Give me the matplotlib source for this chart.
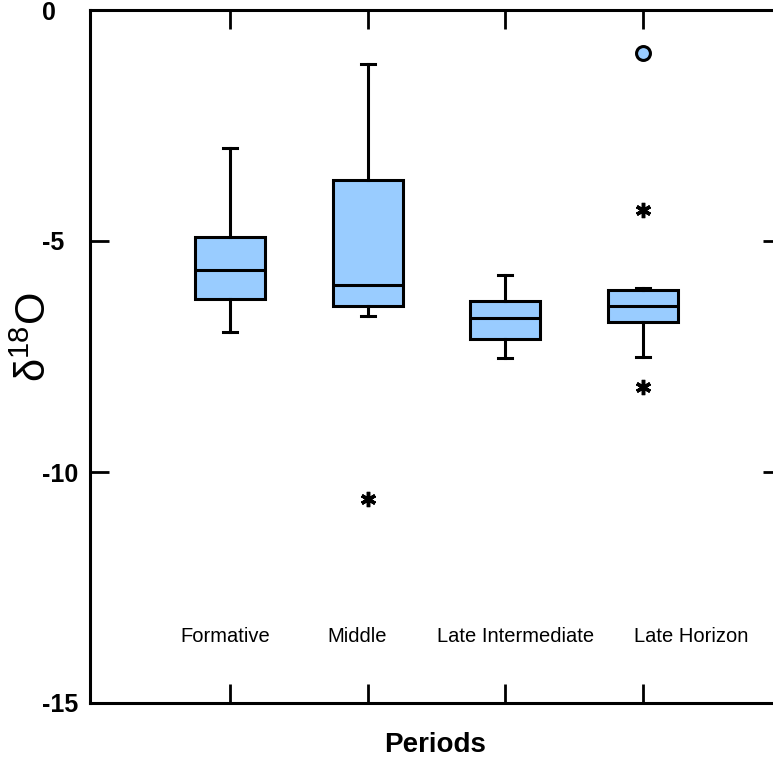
import matplotlib
matplotlib.use("Agg")
import matplotlib.pyplot as plt

plt.rcParams['font.family'] = ['Liberation Sans', 'DejaVu Sans']

categories = ["Formative", "Middle", "Late Intermediate", "Late Horizon"]
whisker_low = [-6.98, -6.62, -7.54, -7.50]
q1 = [-6.26, -6.40, -7.12, -6.76]
median = [-5.62, -5.95, -6.67, -6.40]
q3 = [-4.91, -3.67, -6.29, -6.06]
whisker_high = [-2.98, -1.17, -5.74, -6.02]
star_outlier_cat = [1, 3, 3]
star_outlier_val = [-10.58, -4.32, -8.16]
far_outlier_cat = [3]
far_outlier_val = [-0.93]
yticks = [0, -5, -10, -15]

W, H = 773, 758
fig = plt.figure(figsize=(W / 100, H / 100), dpi=100)
ax = fig.add_axes([90 / W, 1 - 703 / H, (782 - 90) / W, (703 - 10) / H])

positions = [i + 1 for i in range(len(categories))]
stats = []
for i in range(len(categories)):
    stats.append(dict(med=median[i], q1=q1[i], q3=q3[i],
                      whislo=whisker_low[i], whishi=whisker_high[i],
                      fliers=[], label=categories[i]))

ax.bxp(stats, positions=positions, widths=0.51, patch_artist=True,
       showfliers=False,
       boxprops=dict(facecolor='#99ccff', edgecolor='black', linewidth=2.2),
       medianprops=dict(color='black', linewidth=2.2),
       whiskerprops=dict(color='black', linewidth=2.2),
       capprops=dict(color='black', linewidth=2.2),
       capwidths=0.1)

ax.plot([positions[c] for c in star_outlier_cat], star_outlier_val,
        linestyle='none', marker=(6, 2, 0), markersize=11,
        markeredgewidth=2.5, color='black')
ax.plot([positions[c] for c in far_outlier_cat], far_outlier_val,
        linestyle='none', marker='o', markersize=10,
        markerfacecolor='#99ccff', markeredgecolor='black', markeredgewidth=2.2)

ax.set_xlim(-0.017, 5.01)
ax.set_ylim(-15, 0)
ax.set_yticks(yticks)
ax.set_yticklabels([str(v) for v in yticks], fontsize=18, fontweight='bold')
for lab in ax.get_yticklabels():
    lab.set_horizontalalignment('left')
ax.set_xticks(positions)
ax.set_xticklabels([])
ax.tick_params(axis='both', direction='in', length=14, width=2,
               top=True, right=True, bottom=True, left=True)
ax.tick_params(axis='y', pad=34.5)
for s in ax.spines.values():
    s.set_linewidth(2.2)

label_offsets = [-0.036, -0.08, 0.073, 0.35]
for i, name in enumerate(categories):
    ax.text(positions[i] + label_offsets[i], -13.55, name, ha='center',
            va='center', fontsize=14.5)

fig.text(35 / W, 1 - 337 / H, r'δ$^{\mathregular{18}}$O', rotation=90,
         ha='center', va='center', fontsize=30)
fig.text(435 / W, 1 - 745 / H, 'Periods', ha='center', va='center',
         fontsize=20, fontweight='bold')

fig.savefig('out.png', dpi=100)
